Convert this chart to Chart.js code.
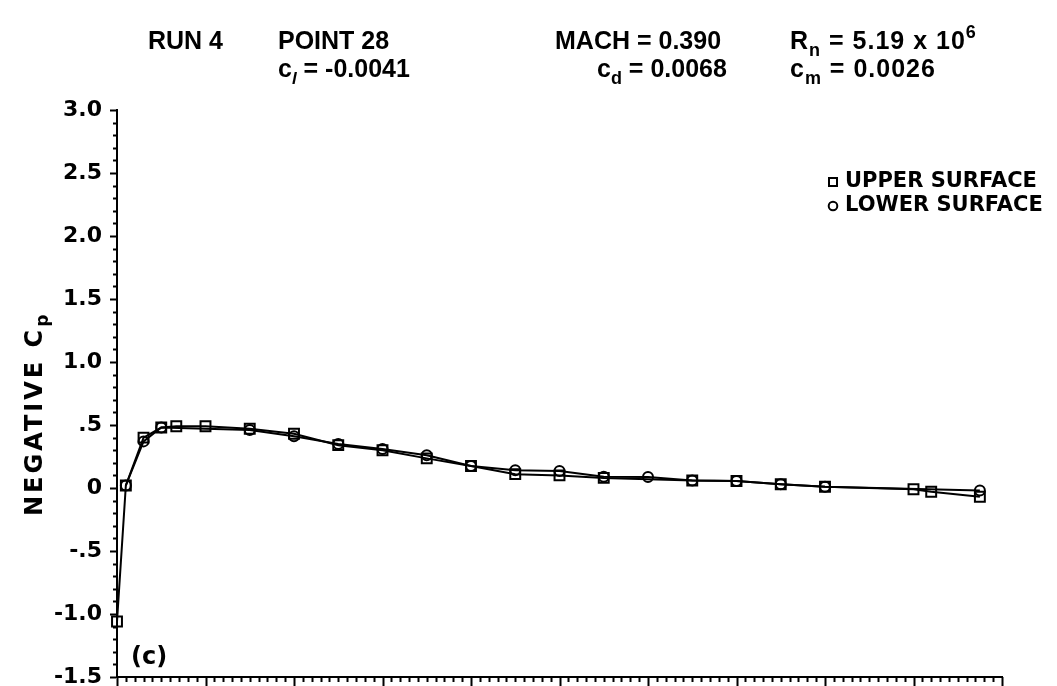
<!DOCTYPE html>
<html>
<head>
<meta charset="utf-8">
<script src="https://cdn.jsdelivr.net/npm/chart.js@4.4.0/dist/chart.umd.min.js"></script>
<style>
  html, body { margin: 0; padding: 0; background: #fff; }
  canvas { display: block; }
</style>
</head>
<body>
<canvas id="cp" width="1057" height="686"></canvas>
<script>
// Chordwise stations (x/c) and negative pressure coefficient, upper surface
const upperX  = [0.0, 0.01, 0.03, 0.05, 0.067, 0.10, 0.15, 0.20, 0.25, 0.30, 0.35, 0.40, 0.45, 0.50, 0.55, 0.65, 0.70, 0.75, 0.80, 0.90, 0.92, 0.975];
const upperCp = [-1.06, 0.02, 0.40, 0.48, 0.49, 0.49, 0.47, 0.43, 0.34, 0.30, 0.235, 0.175, 0.11, 0.10, 0.08, 0.06, 0.055, 0.03, 0.01, -0.01, -0.03, -0.07];

// Lower surface
const lowerX  = [0.01, 0.03, 0.05, 0.15, 0.20, 0.25, 0.30, 0.35, 0.40, 0.45, 0.50, 0.55, 0.60, 0.65, 0.70, 0.75, 0.80, 0.975];
const lowerCp = [0.02, 0.37, 0.48, 0.46, 0.41, 0.35, 0.31, 0.26, 0.175, 0.14, 0.135, 0.09, 0.087, 0.06, 0.055, 0.03, 0.01, -0.02];

// Vertical axis tick labels
const yTickValues = [3.0, 2.5, 2.0, 1.5, 1.0, 0.5, 0.0, -0.5, -1.0, -1.5];
const yTickLabels = ['3.0', '2.5', '2.0', '1.5', '1.0', '.5', '0', '-.5', '-1.0', '-1.5'];

const seriesNames = ['UPPER SURFACE', 'LOWER SURFACE'];
const panelTag = '(c)';

const HEAD = '"Liberation Sans", Arial, sans-serif';
const WIDE = '"DejaVu Sans", sans-serif';

function pts(xs, ys) { return xs.map((x, i) => ({ x: x, y: ys[i] })); }

// Draws a sequence of text runs (with optional baseline shift) left to right
function runs(ctx, x, y, parts, letter, word) {
  ctx.letterSpacing = (letter || 0) + 'px';
  ctx.wordSpacing = (word || 0) + 'px';
  for (const p of parts) {
    ctx.font = p.font;
    ctx.fillText(p.t, x, y + (p.dy || 0));
    x += ctx.measureText(p.t).width;
  }
  ctx.letterSpacing = '0px';
  ctx.wordSpacing = '0px';
  return x;
}

const decorations = {
  id: 'decorations',
  afterDraw(chart) {
    const ctx = chart.ctx;
    const xs = chart.scales.x, ys = chart.scales.y;
    const left = chart.chartArea.left, bottom = chart.chartArea.bottom;
    ctx.save();
    ctx.strokeStyle = '#000';
    ctx.fillStyle = '#000';
    ctx.lineWidth = 2;

    // minor ticks on the vertical axis, every 0.1
    ctx.beginPath();
    for (let i = -15; i <= 30; i++) {
      if (i % 5 === 0) continue;
      const py = Math.round(ys.getPixelForValue(i / 10)) + 0.5;
      ctx.moveTo(left - 4, py); ctx.lineTo(left, py);
    }
    ctx.stroke();

    // ticks on the horizontal axis, every 0.01, longer every 0.1
    ctx.beginPath();
    for (let i = 0; i <= 100; i++) {
      const px = Math.round(xs.getPixelForValue(i / 100)) + 0.5;
      const len = (i % 10 === 0) ? 10 : 5;
      ctx.moveTo(px, bottom); ctx.lineTo(px, bottom + len);
    }
    ctx.stroke();

    // header block
    ctx.textBaseline = 'alphabetic';
    ctx.textAlign = 'left';
    const big = 'bold 25px ' + HEAD;
    const sub = 'bold 18px ' + HEAD;
    const y1 = 49, y2 = 77;
    runs(ctx, 148, y1, [{ t: 'RUN 4', font: big }]);
    runs(ctx, 278, y1, [{ t: 'POINT 28', font: big }]);
    runs(ctx, 555, y1, [{ t: 'MACH = 0.390', font: big }]);
    runs(ctx, 790, y1, [
      { t: 'R', font: big }, { t: 'n', font: sub, dy: 7 },
      { t: ' = 5.19 x 10', font: big }, { t: '6', font: sub, dy: -11 }
    ], 1, 7);
    runs(ctx, 278, y2, [
      { t: 'c', font: big }, { t: 'l', font: 'italic bold 17px ' + HEAD, dy: 7 },
      { t: ' = -0.0041', font: big }
    ]);
    runs(ctx, 597, y2, [
      { t: 'c', font: big }, { t: 'd', font: sub, dy: 7 },
      { t: ' = 0.0068', font: big }
    ]);
    runs(ctx, 790, y2, [
      { t: 'c', font: big }, { t: 'm', font: sub, dy: 7 },
      { t: ' = 0.0026', font: big }
    ], 1, 7);

    // legend
    ctx.font = 'bold 21px ' + WIDE;
    ctx.textBaseline = 'middle';
    ctx.lineWidth = 2;
    ctx.strokeRect(829, 178, 8, 8);
    ctx.fillText(seriesNames[0], 845, 182);
    ctx.beginPath(); ctx.arc(833, 206, 4.3, 0, Math.PI * 2); ctx.stroke();
    ctx.fillText(seriesNames[1], 845, 206);

    // panel tag
    ctx.font = 'bold 24px ' + WIDE;
    ctx.fillText(panelTag, 131, 658);

    // vertical axis title, rotated
    ctx.translate(33, 516);
    ctx.rotate(-Math.PI / 2);
    ctx.textBaseline = 'alphabetic';
    ctx.letterSpacing = '3px';
    ctx.font = 'bold 24px ' + WIDE;
    ctx.fillText('NEGATIVE C', 0, 9);
    const w = ctx.measureText('NEGATIVE C').width;
    ctx.letterSpacing = '0px';
    ctx.font = 'bold 17px ' + WIDE;
    ctx.fillText('p', w, 15);
    ctx.restore();
  }
};

const lineStyle = {
  showLine: true,
  borderColor: '#000',
  borderWidth: 2,
  pointBorderColor: '#000',
  pointBackgroundColor: 'rgba(255,255,255,0)',
  pointBorderWidth: 2,
  tension: 0,
  clip: false
};

new Chart(document.getElementById('cp'), {
  type: 'scatter',
  data: {
    datasets: [
      Object.assign({ label: seriesNames[0], data: pts(upperX, upperCp), pointStyle: 'rect', pointRadius: 7, pointHoverRadius: 7 }, lineStyle),
      Object.assign({ label: seriesNames[1], data: pts(lowerX, lowerCp), pointStyle: 'circle', pointRadius: 5, pointHoverRadius: 5 }, lineStyle)
    ]
  },
  options: {
    responsive: false,
    animation: false,
    devicePixelRatio: 1,
    layout: { padding: { top: 110, right: 55, left: 0, bottom: 0 } },
    plugins: { legend: { display: false }, tooltip: { enabled: false }, title: { display: false } },
    scales: {
      x: {
        type: 'linear', min: 0, max: 1,
        grid: { display: false },
        border: { display: true, color: '#000', width: 2 },
        ticks: { display: false },
        afterFit(s) { s.height = 9; s.paddingLeft = 0; s.paddingRight = 0; }
      },
      y: {
        type: 'linear', min: -1.5, max: 3.0,
        grid: { display: true, drawOnChartArea: false, drawTicks: true, tickLength: 7, tickWidth: 2, tickColor: '#000' },
        border: { display: true, color: '#000', width: 2 },
        ticks: {
          stepSize: 0.5, padding: 8, color: '#000',
          font: { family: WIDE, size: 22, weight: 'bold' },
          callback(v) {
            const i = yTickValues.findIndex(t => Math.abs(t - v) < 1e-6);
            return i >= 0 ? yTickLabels[i] : '';
          }
        },
        afterFit(s) { s.width = 117; s.paddingTop = 0; s.paddingBottom = 0; }
      }
    }
  },
  plugins: [decorations]
});
</script>
</body>
</html>
